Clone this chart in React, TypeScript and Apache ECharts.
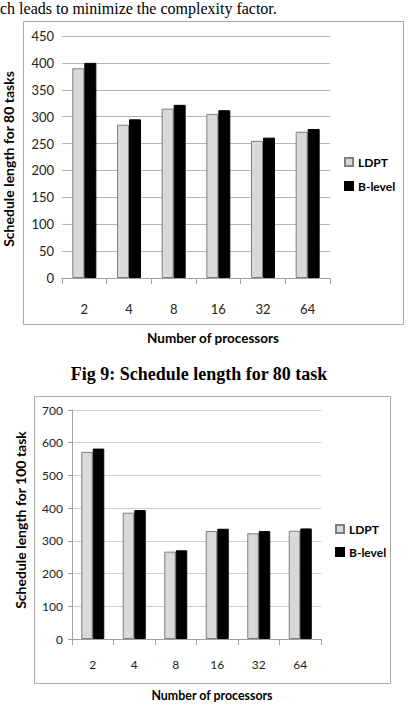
import React, { useEffect, useRef } from "react";
import * as echarts from "echarts";

const categories = ["2", "4", "8", "16", "32", "64"];
const ldpt80 = [390, 285, 315, 305, 255, 272];
const blevel80 = [400, 295, 322, 312, 261, 277];
const ldpt100 = [572, 386, 267, 330, 323, 331];
const blevel100 = [582, 394, 271, 337, 330, 338];
const yTicks80 = { min: 0, max: 450, interval: 50 };
const yTicks100 = { min: 0, max: 700, interval: 100 };
const seriesNames = ["LDPT", "B-level"];

const SANS = "Lato, 'Open Sans', sans-serif";
const SERIF = "'Liberation Serif', 'DejaVu Serif', serif";

export default function App() {
  const ref = useRef<HTMLDivElement>(null);
  useEffect(() => {
    if (!ref.current) return;
    const chart = echarts.init(ref.current, undefined, { renderer: "svg" });
    const ldptStyle = { color: "#d9d9d9", borderColor: "#7f7f7f", borderWidth: 1 };
    const blStyle = { color: "#000000", borderColor: "#000000", borderWidth: 1 };
    const xAxisCommon = (gridIndex: number, fs: number, margin: number) => ({
      type: "category",
      gridIndex,
      data: categories,
      axisLine: { lineStyle: { color: "#a0a0a0", width: 1 } },
      axisTick: { show: true, length: 6, lineStyle: { color: "#a0a0a0" } },
      axisLabel: { color: "#222", fontFamily: SANS, fontSize: fs, margin },
    });
    chart.setOption({
      animation: false,
      backgroundColor: "#ffffff",
      grid: [
        { left: 62, right: 81, top: 36, bottom: 437 },
        { left: 72, right: 90, top: 410, bottom: 76 },
      ],
      xAxis: [xAxisCommon(0, 13, 24), xAxisCommon(1, 12, 19)],
      yAxis: [
        {
          type: "value",
          gridIndex: 0,
          ...yTicks80,
          axisLine: { show: false },
          axisTick: { show: false },
          splitLine: { lineStyle: { color: "#b5b5b5", width: 1 } },
          axisLabel: { color: "#222", fontFamily: SANS, fontSize: 13, margin: 8 },
        },
        {
          type: "value",
          gridIndex: 1,
          ...yTicks100,
          axisLine: { show: true, lineStyle: { color: "#a0a0a0" } },
          axisTick: { show: true, length: 4, lineStyle: { color: "#a0a0a0" } },
          splitLine: { lineStyle: { color: "#cccccc", width: 1 } },
          axisLabel: { color: "#222", fontFamily: SANS, fontSize: 12, margin: 9 },
        },
      ],
      legend: [
        {
          orient: "vertical",
          left: 339,
          top: 151,
          icon: "rect",
          itemWidth: 8,
          itemHeight: 8,
          itemGap: 12,
          data: seriesNames,
          textStyle: { fontFamily: SANS, fontSize: 12, fontWeight: "bold", color: "#000" },
        },
        {
          orient: "vertical",
          left: 330,
          top: 518,
          icon: "rect",
          itemWidth: 8,
          itemHeight: 8,
          itemGap: 11,
          data: seriesNames,
          textStyle: { fontFamily: SANS, fontSize: 12, fontWeight: "bold", color: "#000" },
        },
      ],
      series: [
        { name: seriesNames[0], type: "bar", xAxisIndex: 0, yAxisIndex: 0, data: ldpt80, barWidth: 12, barGap: "0%", itemStyle: ldptStyle },
        { name: seriesNames[1], type: "bar", xAxisIndex: 0, yAxisIndex: 0, data: blevel80, barWidth: 12, barGap: "0%", itemStyle: blStyle },
        { name: seriesNames[0], type: "bar", xAxisIndex: 1, yAxisIndex: 1, data: ldpt100, barWidth: 11.5, barGap: "0%", itemStyle: ldptStyle },
        { name: seriesNames[1], type: "bar", xAxisIndex: 1, yAxisIndex: 1, data: blevel100, barWidth: 11.5, barGap: "0%", itemStyle: blStyle },
      ],
      graphic: [
        { type: "rect", shape: { x: 23.5, y: 21.5, width: 380, height: 303 }, style: { fill: "none", stroke: "#a8a8a8", lineWidth: 1 }, z: -1 },
        { type: "rect", shape: { x: 34.5, y: 396.5, width: 356, height: 287 }, style: { fill: "none", stroke: "#a8a8a8", lineWidth: 1 }, z: -1 },
        {
          type: "text", x: 0, y: 0,
          style: { text: "ch leads to minimize the complexity factor.", font: `16px ${SERIF}`, fill: "#000", textAlign: "left", textVerticalAlign: "top" },
        },
        {
          type: "text", x: 8, y: 159, rotation: Math.PI / 2,
          style: { text: "Schedule length for 80 tasks", font: `bold 14px ${SANS}`, fill: "#000", textAlign: "center", textVerticalAlign: "middle" },
        },
        {
          type: "text", x: 213, y: 338,
          style: { text: "Number of processors", font: `bold 13.5px ${SANS}`, fill: "#000", textAlign: "center", textVerticalAlign: "middle" },
        },
        {
          type: "text", x: 199, y: 374,
          style: { text: "Fig 9: Schedule length for 80 task", font: `bold 18px ${SERIF}`, fill: "#000", textAlign: "center", textVerticalAlign: "middle" },
        },
        {
          type: "text", x: 20, y: 520, rotation: Math.PI / 2,
          style: { text: "Schedule length for 100 task", font: `bold 14px ${SANS}`, fill: "#000", textAlign: "center", textVerticalAlign: "middle" },
        },
        {
          type: "text", x: 212, y: 695,
          style: { text: "Number of processors", font: `bold 12.4px ${SANS}`, fill: "#000", textAlign: "center", textVerticalAlign: "middle" },
        },
      ],
    });
    return () => chart.dispose();
  }, []);
  return (
    <div
      ref={ref}
      style={{ position: "fixed", left: 0, top: 0, width: 411, height: 715, background: "#fff" }}
    />
  );
}
